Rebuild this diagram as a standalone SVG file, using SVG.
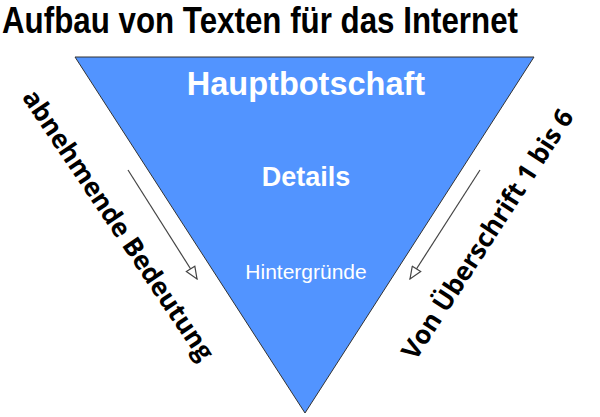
<svg xmlns="http://www.w3.org/2000/svg" width="600" height="417" viewBox="0 0 600 417">
<style>
.title{font-family:"Liberation Sans",Arial,sans-serif;font-weight:bold;font-size:36px;fill:#000}
.in{font-family:"Liberation Sans",Arial,sans-serif;fill:#fff;text-anchor:middle}
.side{font-family:"Open Sans","Noto Sans",sans-serif;font-weight:bold;font-size:26px;fill:#000;text-anchor:middle}
.arr{stroke:#444;stroke-width:1.2;fill:none;marker-end:url(#head)}
</style>
<defs>
<marker id="head" viewBox="0 0 14 12" refX="13" refY="6" markerWidth="14" markerHeight="12" markerUnits="userSpaceOnUse" orient="auto">
<path d="M1,1 L13,6 L1,11 Z" fill="#fff" stroke="#444" stroke-width="1.2"/>
</marker>
</defs>
<rect width="600" height="417" fill="#fff"/>
<text class="title" x="2" y="33" textLength="516" lengthAdjust="spacingAndGlyphs">Aufbau von Texten für das Internet</text>
<g id="pyramid">
<polygon points="75,57 534,57 305,413" fill="#5294ff" stroke="#333" stroke-width="1"/>
<text class="in" x="306" y="95" font-size="32.5" font-weight="bold">Hauptbotschaft</text>
<text class="in" x="306" y="186" font-size="27" font-weight="bold">Details</text>
<text class="in" x="306" y="279" font-size="21">Hintergründe</text>
</g>
<g id="label-left">
<text class="side" transform="translate(111,230) rotate(56)">abnehmende Bedeutung</text>
</g>
<g id="label-right">
<text class="side" transform="translate(495,239) rotate(-57)">Von Überschrift 1 bis 6</text>
</g>
<g id="connectors">
<line class="arr" x1="128" y1="170" x2="197" y2="279"/>
<line class="arr" x1="480" y1="170" x2="410" y2="279"/>
</g>
</svg>
